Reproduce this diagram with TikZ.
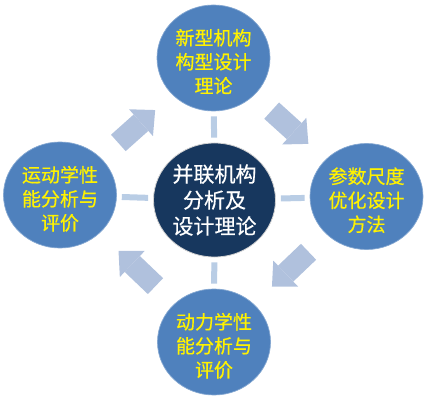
\documentclass[tikz,border=0pt]{standalone}
\usepackage{fontspec}
\newfontfamily\cjk[FakeBold=0.5]{Noto Sans CJK SC}
\usepackage{tikz}
\usetikzlibrary{arrows.meta,calc,shapes.geometric}
\definecolor{topicblue}{HTML}{4F81BD}
\definecolor{coreblue}{HTML}{17375E}
\definecolor{linkblue}{HTML}{B9CDE5}
\definecolor{flowblue}{HTML}{B0C1DD}

\begin{document}
\begin{tikzpicture}[x=1pt,y=-1pt,
    topic/.style={ellipse,fill=topicblue,draw=topicblue!70!white,line width=0.7pt,
      minimum width=113pt,minimum height=106pt,inner sep=0pt,align=center,
      text height=72pt,text depth=2pt,text=yellow,font=\cjk\fontsize{19}{24}\selectfont},
    core/.style={ellipse,fill=coreblue,draw=gray!35,line width=0.8pt,
      minimum width=122pt,minimum height=114pt,inner sep=0pt,align=center,
      text=white,font=\cjk\fontsize{21}{26}\selectfont},
    link/.style={linkblue,line width=6pt,shorten <=5pt,shorten >=5pt},
    flow/.style={flowblue,line width=22pt,
      -{Triangle[length=19pt,width=36pt,line width=0pt]}}]
  \useasboundingbox (0,0) rectangle (426,401);
  % the four topics round the core, clockwise from the top
  \node[core]  (core)       at (214.5,200) {并联机构\\分析及\\设计理论};
  \node[topic] (design)     at (213.5,58)  {新型机构\\构型设计\\理论};
  \node[topic] (sizing)     at (366.5,196.5) {参数尺度\\优化设计\\方法};
  \node[topic] (dynamics)   at (214,342)   {动力学性\\能分析与\\评价};
  \node[topic] (kinematics) at (60,195)    {运动学性\\能分析与\\评价};
  \foreach \n in {design,sizing,dynamics,kinematics}
     { \draw[link] (core) -- (\n); }
  % block arrows sit half way between two neighbouring topics
  \foreach \a/\b in {kinematics/design, design/sizing,
                     sizing/dynamics, dynamics/kinematics}
     { \draw[flow] ($(\a)!0.38!(\b)$) -- ($(\a)!0.62!(\b)$); }
\end{tikzpicture}
\end{document}
